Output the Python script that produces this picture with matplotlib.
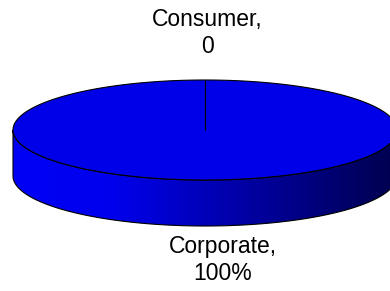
import numpy as np
import matplotlib
matplotlib.use("Agg")
import matplotlib.pyplot as plt
from matplotlib.patches import Polygon

# Data
categories = ["Consumer", "Corporate"]
values = [0, 100]
label_texts = ["Consumer,\n0", "Corporate,\n100%"]

# Layout (pixels)
W, H = 390, 291
cx, cy = 205, 130
ra, rb = 192, 50
depth = 46
start_angle = 90.0

fig = plt.figure(figsize=(W / 100, H / 100), dpi=100)
ax = fig.add_axes([0, 0, 1, 1])
ax.set_xlim(0, W)
ax.set_ylim(H, 0)
ax.axis("off")

def ell(theta_deg, dy=0.0):
    t = np.radians(theta_deg)
    return cx + ra * np.cos(t), cy - rb * np.sin(t) + dy

# Side wall (front half of the cylinder)
th = np.linspace(180, 360, 200)
tx, ty = ell(th)
bx, by = ell(th[::-1], depth)
side_pts = np.column_stack([np.concatenate([tx, bx]), np.concatenate([ty, by])])
ax.add_patch(Polygon(side_pts, closed=True, facecolor="none", edgecolor="black", lw=0.8, zorder=2))

# shading gradient for the side (left bright -> right dark)
grad = np.linspace(0, 1, 256)
blue = np.interp(grad, [0, 0.25, 0.51, 0.77, 0.95, 1.0], [245, 238, 184, 128, 88, 80]) / 255
img = np.zeros((1, 256, 3))
img[0, :, 2] = blue
im = ax.imshow(img, extent=[cx - ra, cx + ra, cy + depth + rb, cy], aspect="auto", zorder=1,
               interpolation="bilinear")
clip = Polygon(side_pts, closed=True, transform=ax.transData, facecolor="none", edgecolor="none")
ax.add_patch(clip)
im.set_clip_path(clip)
ax.set_xlim(0, W)
ax.set_ylim(H, 0)

# Top face from values
total = float(sum(values))
top_color = (0, 0, 232 / 255)
angles = [start_angle]
for v in values:
    angles.append(angles[-1] + 360.0 * v / total)

ta = np.linspace(0, 360, 400)
ex, ey = ell(ta)
ax.add_patch(Polygon(np.column_stack([ex, ey]), closed=True, facecolor=top_color,
                     edgecolor="black", lw=0.8, zorder=3))

# slice border lines
drawn = set()
for a0 in angles[:-1]:
    key = round(a0 % 360, 6)
    if key in drawn:
        continue
    drawn.add(key)
    px, py = ell(a0)
    ax.plot([cx, px], [cy, py], color="black", lw=0.8, zorder=4)

# Labels
label_k = [1.94, 1.68]
label_dx = [2, 18]
for i, txt in enumerate(label_texts):
    mid = (angles[i] + angles[i + 1]) / 2.0
    s = np.sin(np.radians(mid))
    lx = cx + label_dx[i]
    ly = cy - rb * label_k[i] * s + (depth if s < 0 else 0)
    ax.text(lx, ly, txt, ha="center", va="center", fontsize=16.5,
            family="Liberation Sans", linespacing=1.2, color="black", zorder=5)

fig.savefig("out.png", dpi=100)
